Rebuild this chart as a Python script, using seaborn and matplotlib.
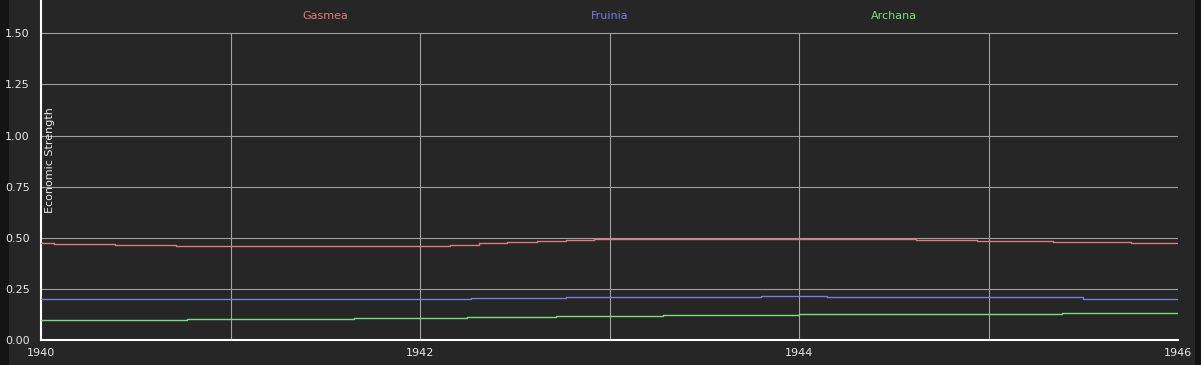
import matplotlib
matplotlib.use("Agg")
import matplotlib.pyplot as plt
import seaborn as sns
import pandas as pd
from matplotlib.patches import Rectangle

# ---- data (step series: year where a value starts, value) ----
gasmea_years = [1940.0, 1940.07, 1940.39, 1940.71, 1942.0, 1942.16, 1942.31, 1942.46,
                1942.62, 1942.77, 1942.92, 1943.36, 1944.30, 1944.62, 1944.94, 1945.34,
                1945.75, 1946.0]
gasmea_vals = [0.475, 0.467, 0.464, 0.459, 0.462, 0.466, 0.472, 0.477,
               0.484, 0.489, 0.493, 0.496, 0.493, 0.487, 0.482, 0.477,
               0.472, 0.472]

fruinia_years = [1940.0, 1942.27, 1942.77, 1943.80, 1944.15, 1945.50, 1946.0]
fruinia_vals = [0.200, 0.204, 0.209, 0.213, 0.209, 0.202, 0.202]

archana_years = [1940.0, 1940.77, 1941.65, 1942.25, 1942.72, 1943.28, 1944.0, 1945.39, 1946.0]
archana_vals = [0.098, 0.103, 0.106, 0.111, 0.116, 0.121, 0.125, 0.130, 0.130]

series_names = ["Gasmea", "Fruinia", "Archana"]
series_colors = ["#e07a7a", "#7a7ae6", "#7ade7a"]
y_ticks = [0.0, 0.25, 0.5, 0.75, 1.0, 1.25, 1.5]
x_ticks = [1940, 1942, 1944, 1946]
x_grid_years = [1941, 1942, 1943, 1944, 1945]
y_label = "Economic Strength"

frames = []
for name, yrs, vals in zip(series_names,
                           [gasmea_years, fruinia_years, archana_years],
                           [gasmea_vals, fruinia_vals, archana_vals]):
    frames.append(pd.DataFrame({"year": yrs, "value": vals, "country": name}))
df = pd.concat(frames, ignore_index=True)

# ---- styling ----
BG = "#262626"
sns.set_theme(style="dark")
plt.rcParams["font.family"] = ["DejaVu Sans"]

fig = plt.figure(figsize=(12.01, 3.65), dpi=100, facecolor=BG)
W, H = 1201, 365
ax = fig.add_axes([41 / W, 25 / H, (1178 - 41) / W, 340 / H])
ax.set_facecolor(BG)

# dark edge strips
fig.patches.append(Rectangle((0, 0), 9 / W, 1, transform=fig.transFigure,
                             facecolor="#141414", edgecolor="none", zorder=-1))
fig.patches.append(Rectangle((1195 / W, 0), 6 / W, 1, transform=fig.transFigure,
                             facecolor="#141414", edgecolor="none", zorder=-1))

sns.lineplot(data=df, x="year", y="value", hue="country",
             palette=dict(zip(series_names, series_colors)),
             hue_order=series_names, estimator=None, drawstyle="steps-post",
             linewidth=1.0, legend=False, ax=ax, zorder=3)

ax.set_xlim(1940, 1946)
ax.set_ylim(0, 340 / 204.5)
ax.set_yticks(y_ticks)
ax.set_yticklabels([f"{v:.2f}" for v in y_ticks])
ax.set_xticks(x_ticks)
ax.set_xticklabels([str(v) for v in x_ticks])
ax.set_xlabel("")
ax.set_ylabel("")

ax.grid(False)
for yv in y_ticks[1:]:
    ax.axhline(yv, color="#a0a0a0", linewidth=0.8, zorder=1)
ax.vlines(x_grid_years, 0, 1.5, color="#a0a0a0", linewidth=0.8, zorder=1)

for s in ["top", "right"]:
    ax.spines[s].set_visible(False)
for s in ["left", "bottom"]:
    ax.spines[s].set_color("white")
    ax.spines[s].set_linewidth(1.5)

ax.tick_params(axis="both", length=0, colors="#e8e8e8", labelsize=8)
ax.tick_params(axis="y", pad=8)
ax.tick_params(axis="x", pad=6)

ax.text((50 - 41) / 1137, (340 - 160) / 340, y_label, transform=ax.transAxes,
        rotation=90, ha="center", va="center", color="#e8e8e8", fontsize=8)

for i, (name, col) in enumerate(zip(series_names, series_colors)):
    ax.text(0.25 * (i + 1), (340 - 16) / 340, name, transform=ax.transAxes,
            ha="center", va="center", color=col, fontsize=8)

fig.savefig("out.png", dpi=100, facecolor=BG)
